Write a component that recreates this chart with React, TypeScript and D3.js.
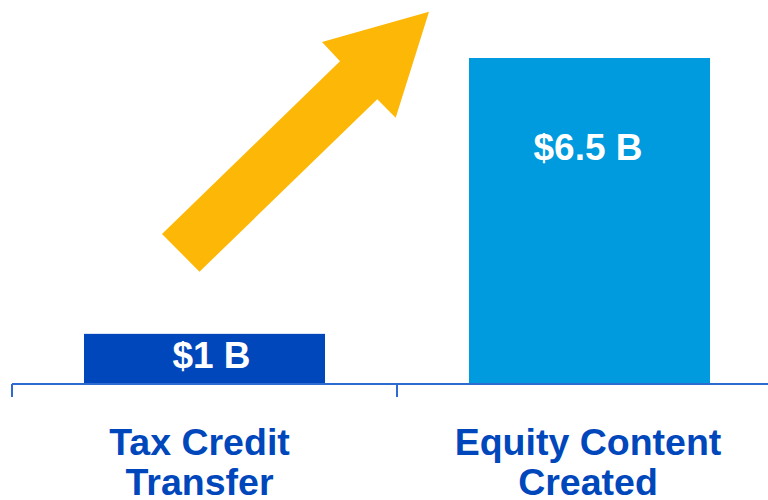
import React from "react";
import * as d3 from "d3";

const categories: string[][] = [["Tax Credit", "Transfer"], ["Equity Content", "Created"]];
const values: number[] = [1, 6.5];
const valueLabels: string[] = ["$1 B", "$6.5 B"];
const barColors: string[] = ["#0047BB", "#009ADE"];

const W = 768;
const H = 500;

export default function App() {
  const keys = categories.map((c) => c.join(" "));
  const x = d3.scaleBand<string>().domain(keys).range([12, 782]).paddingInner(0.374).paddingOuter(0.187);
  const y = d3.scaleLinear().domain([0, 6.5]).range([384, 58]);
  const step = x.step();
  const x0 = 12;
  const boundaries = d3.range(keys.length + 1).map((i) => x0 + i * step);

  const arrow: [number, number][] = [
    [162, 234],
    [199.5, 271.7],
    [377.3, 99.3],
    [395.7, 117.7],
    [429, 11.7],
    [322, 42],
    [340, 61.3],
  ];
  const line = d3.line();

  const font = "'Liberation Sans', Arial, sans-serif";

  return (
    <svg width={W} height={H} style={{ position: "absolute", left: 0, top: 0, background: "#fff" }}>
      {keys.map((k, i) => (
        <rect key={k} x={x(k)} y={y(values[i])} width={x.bandwidth()} height={y(0) - y(values[i])} fill={barColors[i]} />
      ))}
      <path d={line(arrow) + "Z"} fill="#FDB706" />
      <line x1={x0} x2={W} y1={y(0)} y2={y(0)} stroke="#2E6BD0" strokeWidth={2} />
      {boundaries.map((b, i) => (
        <line key={i} x1={b} x2={b} y1={y(0)} y2={397} stroke="#2E6BD0" strokeWidth={2} />
      ))}
      {keys.map((k, i) => {
        const cx = (x(k) as number) + x.bandwidth() / 2;
        const ty = i === 0 ? 368 : y(values[i]) + 102;
        return (
          <text key={k} x={cx + (i === 0 ? 7 : -1.5)} y={ty} textAnchor="middle" fill="#fff" fontFamily={font} fontWeight="bold" fontSize={37}>
            {valueLabels[i]}
          </text>
        );
      })}
      {keys.map((k, i) => {
        const cx = (x(k) as number) + x.bandwidth() / 2;
        return (
          <text key={k} textAnchor="middle" fill="#0047BB" fontFamily={font} fontWeight="bold" fontSize={37.5}>
            {categories[i].map((t, j) => (
              <tspan key={j} x={cx + (i === 0 ? -5 : -1.5)} y={455 + j * 40}>
                {t}
              </tspan>
            ))}
          </text>
        );
      })}
    </svg>
  );
}
